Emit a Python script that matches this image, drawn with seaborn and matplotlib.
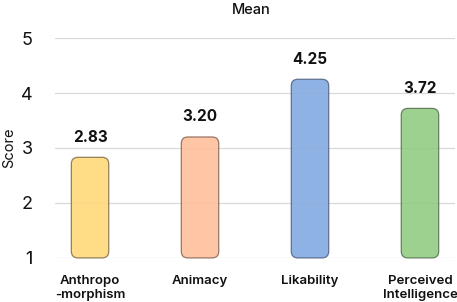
import matplotlib
matplotlib.use("Agg")
import matplotlib.pyplot as plt
from matplotlib.patches import FancyBboxPatch
import seaborn as sns
import pandas as pd

# data
categories = ["Anthropo\n-morphism", "Animacy", "Likability", "Perceived\nIntelligence"]
means = [2.83, 3.20, 4.25, 3.72]
value_labels = ["2.83", "3.20", "4.25", "3.72"]
fill_colors = ["#FFD97C", "#FFC19D", "#86ACE2", "#94CD87"]
edge_colors = ["#8A7650", "#8E6C5C", "#56688A", "#5E7A58"]

df = pd.DataFrame({"cat": categories, "mean": means})

sns.set_theme(style="white")
plt.rcParams["font.family"] = ["Inter", "DejaVu Sans"]

fig = plt.figure(figsize=(4.57, 3.02), dpi=100)
ax = fig.add_axes([0.12, 0.146, 0.876, 0.728])

sns.barplot(data=df, x="cat", y="mean", hue="cat", palette=fill_colors,
            legend=False, width=0.34, ax=ax)

ax.set_xlim(-0.32, 3.32)
ax.set_ylim(1, 5)

# swap plain bars for rounded ones that start at 1
bars = list(ax.patches)
for p, fc, ec in zip(bars, fill_colors, edge_colors):
    x, w, h = p.get_x(), p.get_width(), p.get_height()
    p.remove()
    rb = FancyBboxPatch((x, 1), w, h - 1,
                        boxstyle="round,pad=0,rounding_size=0.06",
                        mutation_aspect=2.0, facecolor=fc, edgecolor=ec,
                        linewidth=0.9, alpha=0.92, clip_on=False, zorder=2)
    ax.add_patch(rb)

for i, (v, lab) in enumerate(zip(means, value_labels)):
    ax.annotate(lab, (i, v), xytext=(0, 9), textcoords="offset points",
                ha="center", va="bottom", fontsize=11, fontweight="bold",
                color="#111111")

ax.set_yticks([1, 2, 3, 4, 5])
ax.yaxis.grid(True, color="#d8d8d8", linewidth=0.9)
ax.set_axisbelow(True)
sns.despine(ax=ax, left=True, bottom=True)
ax.tick_params(axis="y", length=0, pad=16, labelsize=13, labelcolor="#111111")
ax.tick_params(axis="x", length=0, pad=12, labelsize=9.5, labelcolor="#111111")
for t in ax.get_xticklabels():
    t.set_fontweight("semibold")
    t.set_linespacing(1.3)

ax.set_xlabel("")
ax.set_ylabel("Score", fontsize=10.5, color="#111111", labelpad=4)
ax.yaxis.set_label_coords(-0.097, 0.5)
fig.text(0.55, 0.968, "Mean", ha="center", va="center", fontsize=10.5,
         fontweight="medium", color="#111111")

fig.savefig("out.png", dpi=100)
